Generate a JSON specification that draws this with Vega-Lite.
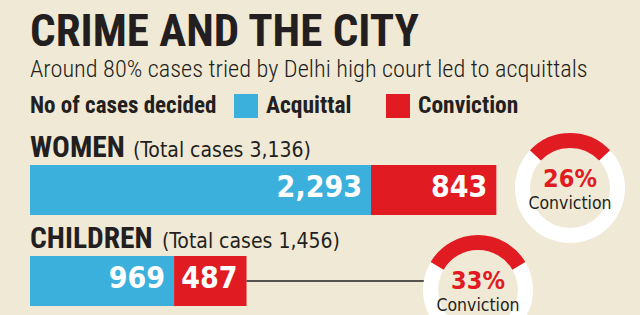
{
  "$schema": "https://vega.github.io/schema/vega-lite/v6.json",
  "width": 610,
  "height": 187,
  "padding": {"left": 30, "top": 9, "right": 0, "bottom": 0},
  "autosize": {"type": "pad"},
  "background": "#f0e9d6",
  "config": {"view": {"stroke": null}},
  "title": {
    "text": "CRIME AND THE CITY",
    "subtitle": "Around 80% cases tried by Delhi high court led to acquittals",
    "anchor": "start",
    "frame": "group",
    "font": "Roboto Condensed, Roboto, sans-serif",
    "fontSize": 45,
    "fontWeight": "bold",
    "color": "#231f20",
    "subtitleFont": "Roboto Condensed, Roboto, sans-serif",
    "subtitleFontSize": 24.3,
    "subtitleFontWeight": 300,
    "subtitleColor": "#231f20",
    "subtitlePadding": 3,
    "offset": 12
  },
  "datasets": {
    "cases": [
      {"group": "WOMEN", "outcome": "Acquittal", "cases": 2293},
      {"group": "WOMEN", "outcome": "Conviction", "cases": 843},
      {"group": "CHILDREN", "outcome": "Acquittal", "cases": 969},
      {"group": "CHILDREN", "outcome": "Conviction", "cases": 487}
    ],
    "groups": [
      {"group": "WOMEN", "total_cases": 3136, "caption": "(Total cases 3,136)", "conviction_rate": 0.26},
      {"group": "CHILDREN", "total_cases": 1456, "caption": "(Total cases 1,456)", "conviction_rate": 0.33}
    ]
  },
  "layer": [
    {
      "data": {"name": "cases"},
      "transform": [
        {"stack": "cases", "groupby": ["group"], "sort": [{"field": "outcome", "order": "ascending"}], "as": ["x0", "x1"]},
        {"lookup": "group", "from": {"data": {"name": "groups"}, "key": "group", "fields": ["caption"]}}
      ],
      "encoding": {
        "y": {
          "field": "group",
          "type": "nominal",
          "sort": ["WOMEN", "CHILDREN"],
          "scale": {"type": "band", "paddingInner": 0.4505, "paddingOuter": 0.2527, "align": 0.848},
          "axis": null
        }
      },
      "layer": [
        {
          "mark": {"type": "bar"},
          "encoding": {
            "x": {"field": "x0", "type": "quantitative", "scale": {"domain": [0, 4102], "nice": false, "zero": true}, "axis": null},
            "x2": {"field": "x1"},
            "color": {
              "field": "outcome",
              "type": "nominal",
              "scale": {"domain": ["Acquittal", "Conviction"], "range": ["#3cb0dc", "#e01b22"]},
              "legend": {
                "title": "No of cases decided",
                "orient": "top",
                "direction": "horizontal",
                "titleOrient": "left",
                "titleAnchor": "middle",
                "titleBaseline": "middle",
                "titleLimit": 400,
                "labelLimit": 300,
                "titleFont": "Roboto Condensed, Roboto, sans-serif",
                "titleFontSize": 23,
                "titleFontWeight": "bold",
                "titleColor": "#231f20",
                "titlePadding": 17,
                "labelFont": "Roboto Condensed, Roboto, sans-serif",
                "labelFontSize": 23.5,
                "labelFontWeight": "bold",
                "labelColor": "#231f20",
                "labelOffset": 8,
                "symbolType": "square",
                "symbolSize": 576,
                "symbolStrokeWidth": 0,
                "symbolOpacity": 1,
                "columnPadding": 34,
                "offset": 8,
                "padding": 0
              }
            }
          }
        },
        {
          "mark": {"type": "text", "align": "right", "baseline": "alphabetic", "dx": -9, "dy": 7, "font": "DejaVu Sans Condensed, sans-serif", "fontWeight": "bold", "fontSize": 30, "color": "#ffffff"},
          "encoding": {
            "x": {"field": "x1", "type": "quantitative"},
            "text": {"field": "cases", "type": "quantitative", "format": ","}
          }
        },
        {
          "transform": [{"filter": "datum.outcome === 'Acquittal'"}],
          "mark": {"type": "text", "align": "left", "baseline": "alphabetic", "dy": -33, "font": "Roboto Condensed, Roboto, sans-serif", "fontWeight": "bold", "fontSize": 29.5, "color": "#231f20"},
          "encoding": {
            "x": {"field": "x0", "type": "quantitative"},
            "text": {"field": "group"}
          }
        },
        {
          "transform": [{"filter": "datum.outcome === 'Acquittal'"}],
          "mark": {"type": "text", "align": "left", "baseline": "alphabetic", "dy": -33, "dx": {"expr": "datum.group === 'WOMEN' ? 103 : 132"}, "font": "DejaVu Sans Condensed, sans-serif", "fontSize": 21, "color": "#231f20"},
          "encoding": {
            "x": {"field": "x0", "type": "quantitative"},
            "text": {"field": "caption"}
          }
        },
        {
          "transform": [{"filter": "datum.group === 'CHILDREN' && datum.outcome === 'Conviction'"}],
          "mark": {"type": "rule", "x2Offset": 178, "strokeWidth": 1.5, "color": "#231f20"},
          "encoding": {
            "x": {"field": "x1", "type": "quantitative"},
            "x2": {"field": "x1"}
          }
        }
      ]
    },
    {
      "data": {"name": "groups"},
      "encoding": {
        "x": {"field": "group", "type": "nominal", "scale": {"type": "point", "domain": ["WOMEN", "CHILDREN"], "range": [540, 448], "padding": 0}, "axis": null},
        "y": {"field": "group", "type": "nominal", "scale": {"type": "point", "domain": ["WOMEN", "CHILDREN"], "range": [62, 164], "padding": 0}, "axis": null}
      },
      "layer": [
        {
          "mark": {"type": "arc", "radius": 55, "radius2": 40, "theta": 0, "theta2": 6.2832, "color": "#ffffff"}
        },
        {
          "mark": {"type": "arc", "radius": 55, "radius2": 40, "color": "#e01b22"},
          "encoding": {
            "theta": {"field": "conviction_rate", "type": "quantitative", "scale": {"domain": [0, 1], "range": [0, 3.14159]}},
            "theta2": {"datum": 0}
          }
        },
        {
          "mark": {"type": "arc", "radius": 55, "radius2": 40, "color": "#e01b22"},
          "encoding": {
            "theta": {"field": "conviction_rate", "type": "quantitative", "scale": {"domain": [0, 1], "range": [0, -3.14159]}},
            "theta2": {"datum": 0}
          }
        },
        {
          "mark": {"type": "text", "align": "center", "baseline": "alphabetic", "dy": -1, "font": "DejaVu Sans Condensed, sans-serif", "fontWeight": "bold", "fontSize": 25, "color": "#e01b22"},
          "encoding": {"text": {"field": "conviction_rate", "type": "quantitative", "format": ".0%"}}
        },
        {
          "mark": {"type": "text", "text": "Conviction", "align": "center", "baseline": "alphabetic", "dy": 21, "font": "DejaVu Sans Condensed, sans-serif", "fontSize": 17.5, "color": "#231f20"}
        }
      ],
      "resolve": {"scale": {"theta": "independent"}}
    }
  ],
  "resolve": {"scale": {"x": "independent", "y": "independent"}}
}
